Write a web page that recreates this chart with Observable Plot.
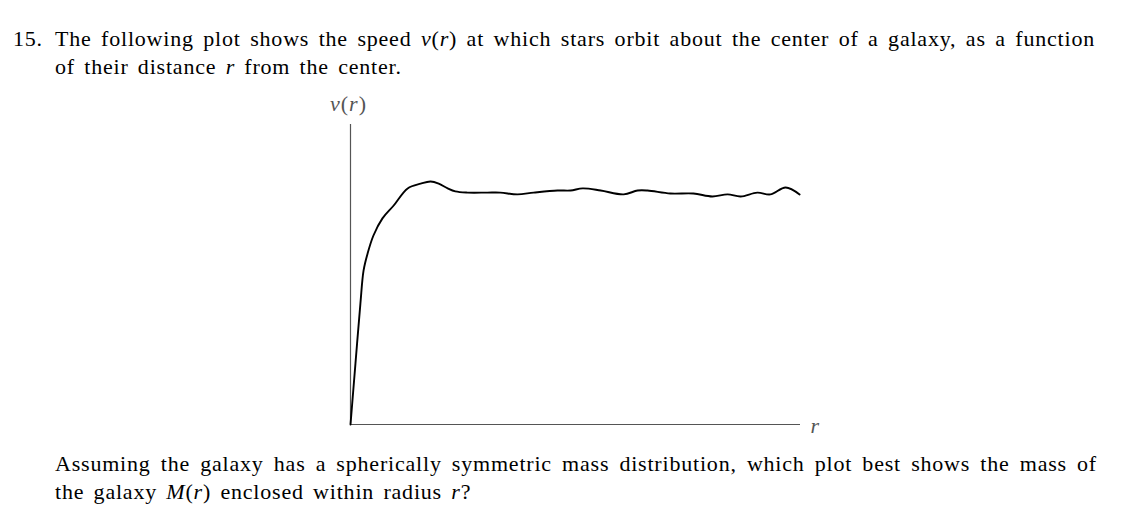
<!DOCTYPE html>
<html>
<head>
<meta charset="utf-8">
<script src="https://cdn.jsdelivr.net/npm/d3@7"></script>
<script src="https://cdn.jsdelivr.net/npm/@observablehq/plot@0.6"></script>
<style>
  html, body { margin: 0; padding: 0; background: #fff; }
  body { width: 1126px; height: 528px; position: relative; overflow: hidden;
         font-family: "Liberation Serif", "DejaVu Serif", serif; font-size: 22px; color: #000;
         letter-spacing: 0.8px; word-spacing: 3px; }
  .ln { position: absolute; line-height: 28px; white-space: nowrap; }
  .just { text-align: justify; text-align-last: justify; white-space: normal; word-spacing: 0; }
  #chart { position: absolute; left: 0; top: 90px; letter-spacing: 0; word-spacing: 0; }
</style>
</head>
<body>
<div class="ln" style="left:13px; top:25px;">15.</div>
<div class="ln just" style="left:55px; top:25px; width:1040px;">The following plot shows the speed <i>v</i>(<i>r</i>) at which stars orbit about the center of a galaxy, as a function</div>
<div class="ln" style="left:55px; top:53px;">of their distance <i>r</i> from the center.</div>
<div id="chart"></div>
<div class="ln just" style="left:55px; top:450px; width:1042px;">Assuming the galaxy has a spherically symmetric mass distribution, which plot best shows the mass of</div>
<div class="ln" style="left:55px; top:478px;">the galaxy <i>M</i>(<i>r</i>) enclosed within radius <i>r</i>?</div>
<script>
// radius (arbitrary units, axis spans 0..10)
const radius = [0, 0.11, 0.22, 0.29, 0.38, 0.51, 0.71, 0.96, 1.27, 1.56, 1.78, 1.96, 2.16, 2.33, 2.6, 3.04, 3.33, 3.71, 4.07, 4.6, 4.89, 5.16, 5.56, 6.07, 6.38, 6.6, 7.11, 7.62, 8.04, 8.38, 8.67, 9.04, 9.33, 9.67, 9.98];
// orbital speed (arbitrary units, axis spans 0..10)
const speed = [0, 2.03, 4.03, 5.13, 5.7, 6.3, 6.87, 7.3, 7.87, 8.03, 8.1, 8.03, 7.87, 7.77, 7.73, 7.73, 7.73, 7.67, 7.73, 7.8, 7.8, 7.87, 7.8, 7.67, 7.8, 7.8, 7.7, 7.7, 7.6, 7.67, 7.6, 7.73, 7.67, 7.9, 7.67];
const xLabel = "r";
const yLabel = "v(r)";

const data = radius.map((r, i) => ({r, v: speed[i]}));

const chart = Plot.plot({
  width: 1126,
  height: 350,
  marginLeft: 350,
  marginRight: 326,
  marginTop: 34,
  marginBottom: 16,
  x: {domain: [0, 10], axis: null},
  y: {domain: [0, 10], axis: null},
  style: {background: "transparent", overflow: "visible"},
  marks: [
    Plot.ruleX([0], {stroke: "#555", strokeWidth: 1.2}),
    Plot.ruleY([0], {stroke: "#555", strokeWidth: 1.2}),
    Plot.line(data, {x: "r", y: "v", curve: "catmull-rom", stroke: "#000", strokeWidth: 1.9}),
    Plot.text([yLabel], {x: 0, y: 10, dx: -2, dy: -21, text: d => d, fontSize: 22,
      fontFamily: "Liberation Serif, serif", fill: "#555", textAnchor: "middle", className: "ylab"}),
    Plot.text([xLabel], {x: 10, y: 0, dx: 10, dy: 1, text: d => d, fontSize: 22, fontStyle: "italic",
      fontFamily: "Liberation Serif, serif", fill: "#555", textAnchor: "start"})
  ]
});
// math-style label: italic variables, upright parentheses
chart.querySelectorAll(".ylab text").forEach(t => {
  t.innerHTML = '<tspan font-style="italic">v</tspan>(<tspan font-style="italic">r</tspan>)';
  t.setAttribute("letter-spacing", "1");
});
document.getElementById("chart").append(chart);
</script>
</body>
</html>
